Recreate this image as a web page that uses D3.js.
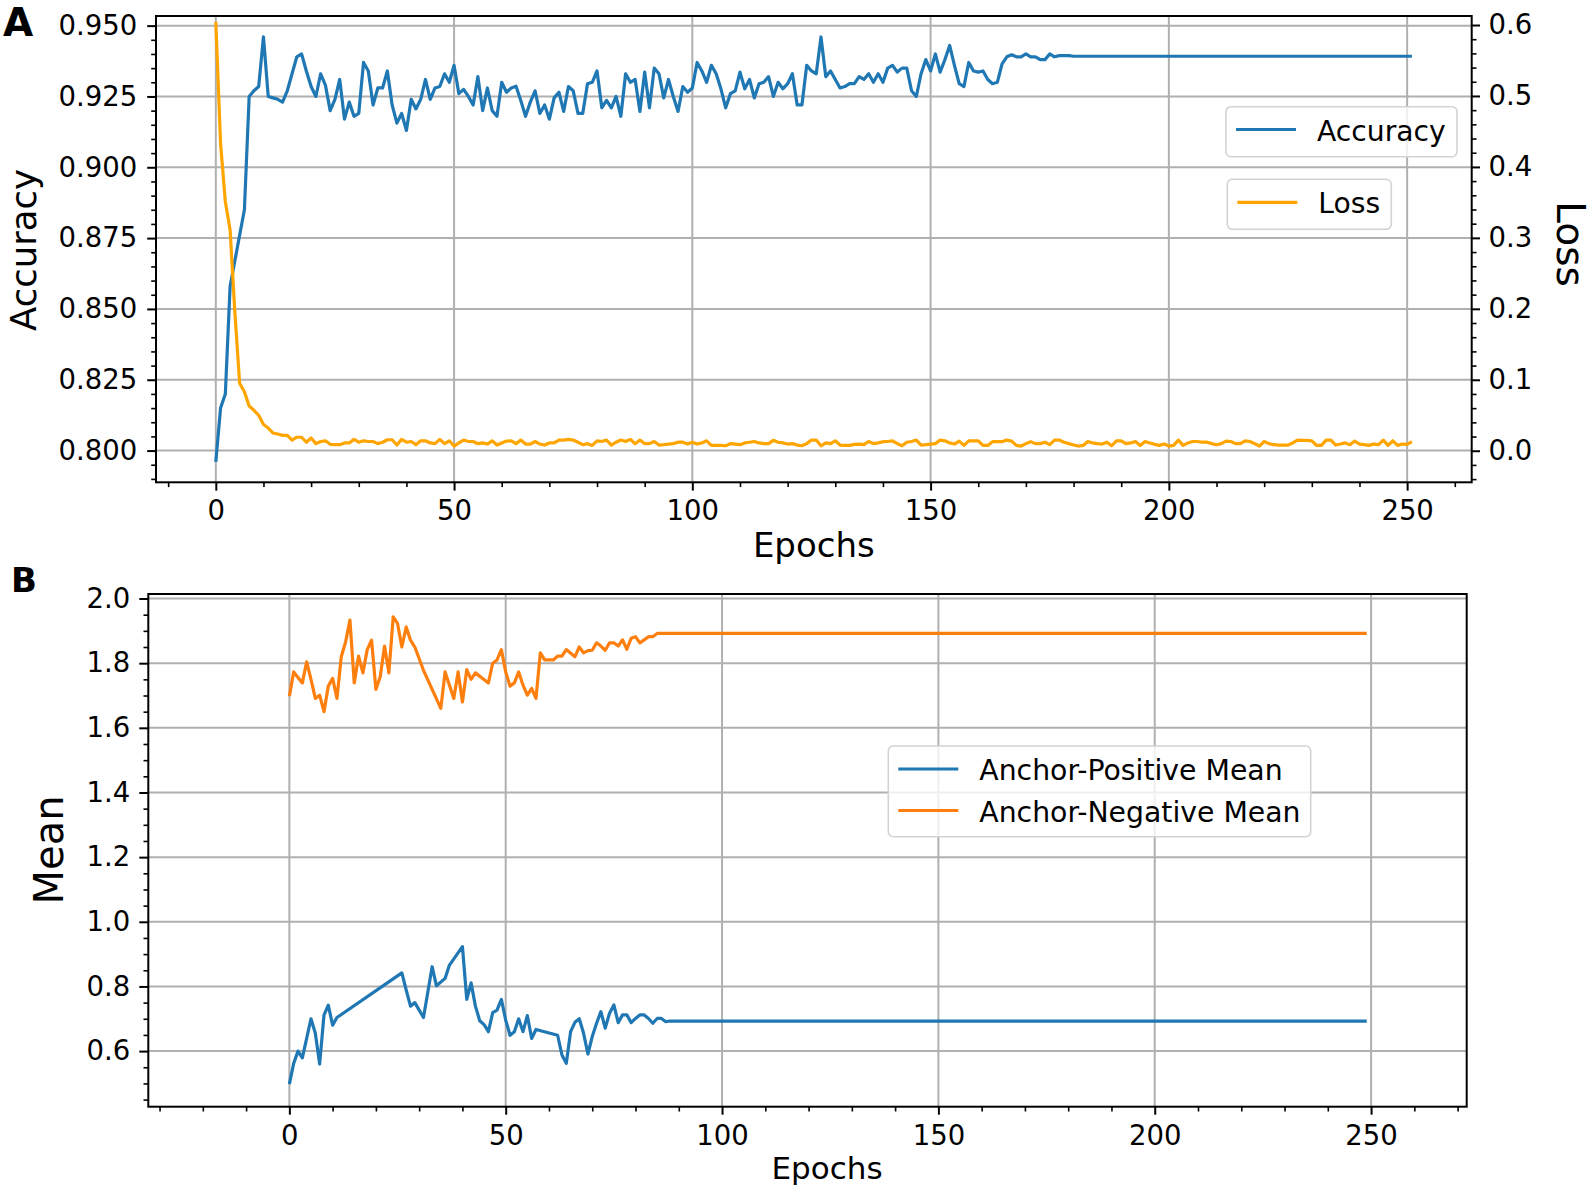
<!DOCTYPE html>
<meta charset="utf-8">
<style>
body { margin: 0; background: #fff; }
svg { display: block; }
</style>
<body>
<script src="https://d3js.org/d3.v7.min.js"></script>
<svg id="fig" width="1594" height="1190"></svg>
<script>

// ---- panel A data: one value per epoch (0..251) ----
var accuracy = [
  0.796, 0.815, 0.820, 0.858, 0.867, 0.876, 0.885, 0.925, 0.927, 0.9285,
  0.946, 0.925, 0.9245, 0.924, 0.923, 0.927, 0.933, 0.939, 0.940, 0.934,
  0.9285, 0.925, 0.933, 0.929, 0.920, 0.924, 0.931, 0.917, 0.923, 0.918,
  0.919, 0.937, 0.934, 0.922, 0.928, 0.928, 0.934, 0.922, 0.9156, 0.919,
  0.913, 0.924, 0.9206, 0.924, 0.931, 0.924, 0.928, 0.9285, 0.933, 0.930,
  0.936, 0.926, 0.9275, 0.925, 0.922, 0.932, 0.920, 0.928, 0.920, 0.918,
  0.930, 0.9265, 0.928, 0.9286, 0.9236, 0.918, 0.923, 0.927, 0.919, 0.922,
  0.917, 0.9245, 0.9265, 0.9197, 0.9285, 0.927, 0.919, 0.919, 0.9295, 0.930,
  0.934, 0.921, 0.9236, 0.921, 0.925, 0.918, 0.933, 0.930, 0.931, 0.9197,
  0.9336, 0.921, 0.935, 0.933, 0.9245, 0.931, 0.925, 0.9197, 0.9285, 0.9265,
  0.928, 0.937, 0.934, 0.930, 0.936, 0.933, 0.9277, 0.921, 0.926, 0.927,
  0.9336, 0.9277, 0.931, 0.9245, 0.9295, 0.930, 0.932, 0.925, 0.930, 0.9277,
  0.9295, 0.933, 0.922, 0.922, 0.936, 0.934, 0.933, 0.946, 0.932, 0.934,
  0.931, 0.928, 0.9285, 0.9295, 0.9295, 0.932, 0.931, 0.933, 0.930, 0.933,
  0.930, 0.935, 0.936, 0.9336, 0.935, 0.935, 0.927, 0.925, 0.933, 0.938,
  0.934, 0.940, 0.9336, 0.938, 0.943, 0.936, 0.9295, 0.9285, 0.937, 0.934,
  0.9336, 0.934, 0.931, 0.9295, 0.930, 0.9365, 0.939, 0.9397, 0.939, 0.939,
  0.940, 0.939, 0.939, 0.938, 0.938, 0.940, 0.939, 0.9394, 0.9394, 0.9394,
  0.9392, 0.9392, 0.9392, 0.9392, 0.9392, 0.9392, 0.9392, 0.9392, 0.9392, 0.9392,
  0.9392, 0.9392, 0.9392, 0.9392, 0.9392, 0.9392, 0.9392, 0.9392, 0.9392, 0.9392,
  0.9392, 0.9392, 0.9392, 0.9392, 0.9392, 0.9392, 0.9392, 0.9392, 0.9392, 0.9392,
  0.9392, 0.9392, 0.9392, 0.9392, 0.9392, 0.9392, 0.9392, 0.9392, 0.9392, 0.9392,
  0.9392, 0.9392, 0.9392, 0.9392, 0.9392, 0.9392, 0.9392, 0.9392, 0.9392, 0.9392,
  0.9392, 0.9392, 0.9392, 0.9392, 0.9392, 0.9392, 0.9392, 0.9392, 0.9392, 0.9392,
  0.9392, 0.9392, 0.9392, 0.9392, 0.9392, 0.9392, 0.9392, 0.9392, 0.9392, 0.9392,
  0.9392, 0.9392
];

var loss = [
  0.6045, 0.433, 0.351, 0.311, 0.195, 0.095, 0.083, 0.063, 0.057, 0.050,
  0.037, 0.032, 0.025, 0.0235, 0.0216, 0.0216, 0.015, 0.019, 0.019, 0.012,
  0.018, 0.010, 0.013, 0.014, 0.009, 0.0085, 0.0085, 0.011, 0.011, 0.016,
  0.012, 0.014, 0.013, 0.013, 0.010, 0.012, 0.0155, 0.0155, 0.008, 0.016,
  0.012, 0.013, 0.0085, 0.014, 0.014, 0.011, 0.010, 0.016, 0.010, 0.014,
  0.0066, 0.011, 0.015, 0.013, 0.013, 0.0099, 0.011, 0.0094, 0.014, 0.008,
  0.011, 0.0136, 0.014, 0.010, 0.015, 0.0094, 0.0094, 0.013, 0.0094, 0.008,
  0.011, 0.011, 0.015, 0.015, 0.016, 0.015, 0.012, 0.0085, 0.010, 0.0075,
  0.014, 0.013, 0.015, 0.008, 0.012, 0.015, 0.013, 0.016, 0.0099, 0.015,
  0.010, 0.010, 0.013, 0.008, 0.0085, 0.0094, 0.010, 0.012, 0.012, 0.0094,
  0.012, 0.0094, 0.011, 0.014, 0.0075, 0.0075, 0.0075, 0.007, 0.010, 0.0094,
  0.0085, 0.011, 0.012, 0.013, 0.011, 0.010, 0.010, 0.0146, 0.012, 0.011,
  0.0094, 0.010, 0.008, 0.007, 0.010, 0.015, 0.015, 0.007, 0.011, 0.0099,
  0.014, 0.008, 0.0075, 0.0075, 0.009, 0.0094, 0.0085, 0.013, 0.010, 0.011,
  0.0127, 0.013, 0.014, 0.010, 0.007, 0.012, 0.013, 0.015, 0.008, 0.0085,
  0.0094, 0.010, 0.015, 0.014, 0.011, 0.0094, 0.0136, 0.0075, 0.014, 0.014,
  0.014, 0.0075, 0.0075, 0.0127, 0.0127, 0.0127, 0.015, 0.0136, 0.0075, 0.0066,
  0.010, 0.0127, 0.010, 0.010, 0.012, 0.0085, 0.015, 0.015, 0.012, 0.010,
  0.008, 0.0066, 0.0075, 0.013, 0.011, 0.010, 0.0094, 0.012, 0.007, 0.014,
  0.014, 0.0099, 0.011, 0.013, 0.0075, 0.013, 0.011, 0.009, 0.0075, 0.0094,
  0.0066, 0.0075, 0.015, 0.0075, 0.011, 0.013, 0.013, 0.012, 0.012, 0.010,
  0.0085, 0.010, 0.0136, 0.013, 0.010, 0.010, 0.014, 0.013, 0.010, 0.0066,
  0.013, 0.010, 0.0085, 0.008, 0.008, 0.008, 0.011, 0.015, 0.0146, 0.0146,
  0.014, 0.0075, 0.0075, 0.015, 0.015, 0.008, 0.0094, 0.011, 0.0085, 0.0136,
  0.0094, 0.0085, 0.0075, 0.0094, 0.0085, 0.015, 0.0075, 0.014, 0.0075, 0.0094,
  0.009, 0.0127
];

// ---- panel B data: epochs are irregular, so x is stored too ----
var posEpochs = [0, 1, 2, 3, 5, 6, 7, 8, 9, 10, 11, 26, 27, 28, 29, 31, 33, 34, 36, 37,
  40, 41, 42, 43, 44, 45, 46, 47, 48, 49, 50, 51, 52, 53, 54, 55, 56, 57, 62, 63,
  64, 65, 66, 67, 68, 69, 70, 71, 72, 73, 74, 75, 76, 77, 78, 79, 80, 81, 82, 83,
  84, 85, 86, 87, 88, 249];
var posMean = [0.498, 0.562, 0.600, 0.579, 0.700, 0.655, 0.560, 0.711, 0.742, 0.680,
  0.704, 0.842, 0.789, 0.739, 0.750, 0.704, 0.861, 0.802, 0.825, 0.866,
  0.923, 0.760, 0.811, 0.739, 0.694, 0.682, 0.660, 0.719, 0.727, 0.760,
  0.696, 0.649, 0.660, 0.700, 0.660, 0.710, 0.639, 0.667, 0.649, 0.588,
  0.562, 0.660, 0.689, 0.700, 0.655, 0.591, 0.645, 0.686, 0.722, 0.671,
  0.717, 0.743, 0.688, 0.712, 0.712, 0.688, 0.701, 0.712, 0.712, 0.701,
  0.686, 0.701, 0.701, 0.691, 0.693, 0.693];

var negEpochs = [0, 1, 2, 3, 4, 5, 6, 7, 8, 9, 10, 11, 12, 13, 14, 15, 16, 17, 18, 19,
  20, 21, 22, 23, 24, 25, 26, 27, 28, 29, 31, 35, 36, 38, 39, 40, 41, 42, 43, 46,
  47, 48, 49, 50, 51, 52, 53, 54, 55, 56, 57, 58, 59, 61, 62, 63, 64, 66, 67, 68,
  69, 70, 71, 72, 73, 74, 75, 76, 77, 78, 79, 80, 81, 82, 83, 84, 85, 249];
var negMean = [1.698, 1.773, 1.756, 1.739, 1.804, 1.750, 1.691, 1.701, 1.650, 1.729,
  1.753, 1.691, 1.820, 1.866, 1.933, 1.739, 1.822, 1.770, 1.842, 1.871,
  1.719, 1.758, 1.853, 1.770, 1.943, 1.923, 1.850, 1.912, 1.871, 1.850,
  1.778, 1.660, 1.773, 1.691, 1.773, 1.680, 1.780, 1.750, 1.770, 1.739,
  1.800, 1.810, 1.842, 1.773, 1.729, 1.739, 1.773, 1.732, 1.701, 1.722,
  1.691, 1.832, 1.810, 1.810, 1.822, 1.822, 1.842, 1.820, 1.850, 1.832,
  1.839, 1.840, 1.863, 1.853, 1.840, 1.863, 1.863, 1.853, 1.872, 1.843,
  1.877, 1.882, 1.863, 1.872, 1.882, 1.882, 1.892, 1.892];

// ---- tick values ----
var epochTicks = [0, 50, 100, 150, 200, 250];
var accTicks = [0.800, 0.825, 0.850, 0.875, 0.900, 0.925, 0.950];
var lossTicks = [0.0, 0.1, 0.2, 0.3, 0.4, 0.5, 0.6];
var meanTicks = [0.6, 0.8, 1.0, 1.2, 1.4, 1.6, 1.8, 2.0];

var FONT = "DejaVu Sans, Verdana, sans-serif";
var BLUE = "#1f77b4", ORANGE_A = "#ffa500", ORANGE_B = "#ff7f0e";
var TICK_FS = 27.5;

var svg = d3.select("#fig");
svg.append("rect").attr("width", 1594).attr("height", 1190).attr("fill", "#fff");

function minorOf(lo, hi, step, majors) {
  return d3.range(Math.round(lo / step), Math.round(hi / step) + 1)
    .map(function(k) { return +(k * step).toFixed(4); })
    .filter(function(v) { return !majors.some(function(m) { return Math.abs(m - v) < 1e-6; }); });
}

function styleAxis(g, fs, minor) {
  g.attr("font-family", FONT).attr("font-size", fs);
  g.select(".domain").remove();
  g.selectAll(".tick line").attr("stroke", "#000").attr("stroke-width", minor ? 1.6 : 2);
  g.selectAll(".tick text").attr("fill", "#000");
}

function grid(g, xs, ys, xTicks, yTicks) {
  var x0 = xs.range()[0], x1 = xs.range()[1], y0 = ys.range()[0], y1 = ys.range()[1];
  g.selectAll(null).data(xTicks).enter().append("line")
    .attr("x1", function(d) { return xs(d); }).attr("x2", function(d) { return xs(d); })
    .attr("y1", y0).attr("y2", y1)
    .attr("stroke", "#b0b0b0").attr("stroke-width", 2);
  g.selectAll(null).data(yTicks).enter().append("line")
    .attr("y1", function(d) { return ys(d); }).attr("y2", function(d) { return ys(d); })
    .attr("x1", x0).attr("x2", x1)
    .attr("stroke", "#b0b0b0").attr("stroke-width", 2);
}

function legendBox(g, x, y, w, h, rows, fs) {
  g.append("rect").attr("x", x).attr("y", y).attr("width", w).attr("height", h)
    .attr("rx", 5).attr("fill", "rgba(255,255,255,0.8)")
    .attr("stroke", "#d3d3d3").attr("stroke-width", 1.6);
  rows.forEach(function(r) {
    g.append("line").attr("x1", x + 10).attr("x2", x + 70).attr("y1", r.y).attr("y2", r.y)
      .attr("stroke", r.color).attr("stroke-width", 3.2);
    g.append("text").attr("x", x + 91).attr("y", r.y + 11).attr("font-family", FONT)
      .attr("font-size", fs).attr("fill", "#000").text(r.label);
  });
}

// ================= Panel A =================
var xA = d3.scaleLinear().domain([-12.55, 263.55]).range([156, 1471.7]);
var yAcc = d3.scaleLinear().domain([0.7888, 0.9534]).range([482.3, 16]);
var yLoss = d3.scaleLinear().domain([-0.0445, 0.6127]).range([482.3, 16]);

var gA = svg.append("g");
grid(gA, xA, yAcc, epochTicks, accTicks);

svg.append("clipPath").attr("id", "clipA").append("rect")
  .attr("x", 156).attr("y", 16).attr("width", 1315.7).attr("height", 466.3);

gA.append("path").datum(accuracy)
  .attr("clip-path", "url(#clipA)")
  .attr("fill", "none").attr("stroke", BLUE).attr("stroke-width", 3.2)
  .attr("stroke-linejoin", "round")
  .attr("d", d3.line().x(function(d, i) { return xA(i); }).y(function(d) { return yAcc(d); }));

legendBox(gA, 1226, 106.7, 231, 50, [{ y: 129.5, color: BLUE, label: "Accuracy" }], 28.2);

gA.append("path").datum(loss)
  .attr("clip-path", "url(#clipA)")
  .attr("fill", "none").attr("stroke", ORANGE_A).attr("stroke-width", 3.2)
  .attr("stroke-linejoin", "round")
  .attr("d", d3.line().x(function(d, i) { return xA(i); }).y(function(d) { return yLoss(d); }));

legendBox(gA, 1227.3, 179.3, 164, 50, [{ y: 202.3, color: ORANGE_A, label: "Loss" }], 28.2);

// axes A
gA.append("g").attr("transform", "translate(0,482.3)")
  .call(d3.axisBottom(xA).tickValues(minorOf(-10, 260, 10, epochTicks)).tickSize(4.8).tickFormat(""))
  .call(styleAxis, TICK_FS, true);
gA.append("g").attr("transform", "translate(0,482.3)")
  .call(d3.axisBottom(xA).tickValues(epochTicks).tickSize(8.3).tickPadding(9.5).tickFormat(d3.format("d")))
  .call(styleAxis, TICK_FS);

gA.append("g").attr("transform", "translate(156,0)")
  .call(d3.axisLeft(yAcc).tickValues(minorOf(0.79, 0.95, 0.005, accTicks)).tickSize(4.8).tickFormat(""))
  .call(styleAxis, TICK_FS, true);
gA.append("g").attr("transform", "translate(156,0)")
  .call(d3.axisLeft(yAcc).tickValues(accTicks).tickSize(8.8).tickPadding(10).tickFormat(d3.format(".3f")))
  .call(styleAxis, TICK_FS);

gA.append("g").attr("transform", "translate(1471.7,0)")
  .call(d3.axisRight(yLoss).tickValues(minorOf(-0.04, 0.6, 0.02, lossTicks)).tickSize(4.8).tickFormat(""))
  .call(styleAxis, TICK_FS, true);
gA.append("g").attr("transform", "translate(1471.7,0)")
  .call(d3.axisRight(yLoss).tickValues(lossTicks).tickSize(8.3).tickPadding(8.5).tickFormat(d3.format(".1f")))
  .call(styleAxis, TICK_FS);

gA.append("rect").attr("x", 156).attr("y", 16).attr("width", 1315.7).attr("height", 466.3)
  .attr("fill", "none").attr("stroke", "#000").attr("stroke-width", 2);

gA.append("text").attr("x", 813.8).attr("y", 557).attr("text-anchor", "middle")
  .attr("font-family", FONT).attr("font-size", 34).text("Epochs");
gA.append("text").attr("transform", "translate(35.5,250) rotate(-90)").attr("text-anchor", "middle")
  .attr("font-family", FONT).attr("font-size", 35.5).text("Accuracy");
gA.append("text").attr("transform", "translate(1557,244) rotate(90)").attr("text-anchor", "middle")
  .attr("font-family", FONT).attr("font-size", 39).text("Loss");
svg.append("text").attr("x", 3).attr("y", 36).attr("font-family", FONT)
  .attr("font-weight", "bold").attr("font-size", 39).text("A");

// ================= Panel B =================
var xB = d3.scaleLinear().domain([-32.6, 272.1]).range([148.3, 1466.7]);
var yB = d3.scaleLinear().domain([0.428, 2.014]).range([1106.7, 594]);

var gB = svg.append("g");
grid(gB, xB, yB, epochTicks, meanTicks);

svg.append("clipPath").attr("id", "clipB").append("rect")
  .attr("x", 148.3).attr("y", 594).attr("width", 1318.4).attr("height", 512.7);

var posPts = posEpochs.map(function(e, i) { return [e, posMean[i]]; });
var negPts = negEpochs.map(function(e, i) { return [e, negMean[i]]; });
var lineB = d3.line().x(function(d) { return xB(d[0]); }).y(function(d) { return yB(d[1]); });

gB.append("path").datum(posPts).attr("clip-path", "url(#clipB)")
  .attr("fill", "none").attr("stroke", BLUE).attr("stroke-width", 3.2)
  .attr("stroke-linejoin", "round").attr("d", lineB);
gB.append("path").datum(negPts).attr("clip-path", "url(#clipB)")
  .attr("fill", "none").attr("stroke", ORANGE_B).attr("stroke-width", 3.2)
  .attr("stroke-linejoin", "round").attr("d", lineB);

gB.append("g").attr("transform", "translate(0,1106.7)")
  .call(d3.axisBottom(xB).tickValues(minorOf(-30, 270, 10, epochTicks)).tickSize(4.8).tickFormat(""))
  .call(styleAxis, TICK_FS, true);
gB.append("g").attr("transform", "translate(0,1106.7)")
  .call(d3.axisBottom(xB).tickValues(epochTicks).tickSize(8).tickPadding(10.5).tickFormat(d3.format("d")))
  .call(styleAxis, TICK_FS);

gB.append("g").attr("transform", "translate(148.3,0)")
  .call(d3.axisLeft(yB).tickValues(minorOf(0.45, 2.0, 0.05, meanTicks)).tickSize(4.8).tickFormat(""))
  .call(styleAxis, TICK_FS, true);
gB.append("g").attr("transform", "translate(148.3,0)")
  .call(d3.axisLeft(yB).tickValues(meanTicks).tickSize(9).tickPadding(9).tickFormat(d3.format(".1f")))
  .call(styleAxis, TICK_FS);

gB.append("rect").attr("x", 148.3).attr("y", 594).attr("width", 1318.4).attr("height", 512.7)
  .attr("fill", "none").attr("stroke", "#000").attr("stroke-width", 2);

legendBox(gB, 888.3, 746, 422.4, 90.7, [
  { y: 769, color: BLUE, label: "Anchor-Positive Mean" },
  { y: 810.5, color: ORANGE_B, label: "Anchor-Negative Mean" }
], 28.3);

gB.append("text").attr("x", 827).attr("y", 1179).attr("text-anchor", "middle")
  .attr("font-family", FONT).attr("font-size", 31).text("Epochs");
gB.append("text").attr("transform", "translate(63,850) rotate(-90)").attr("text-anchor", "middle")
  .attr("font-family", FONT).attr("font-size", 40).text("Mean");
svg.append("text").attr("x", 11).attr("y", 592).attr("font-family", FONT)
  .attr("font-weight", "bold").attr("font-size", 34).text("B");

</script>
</body>
